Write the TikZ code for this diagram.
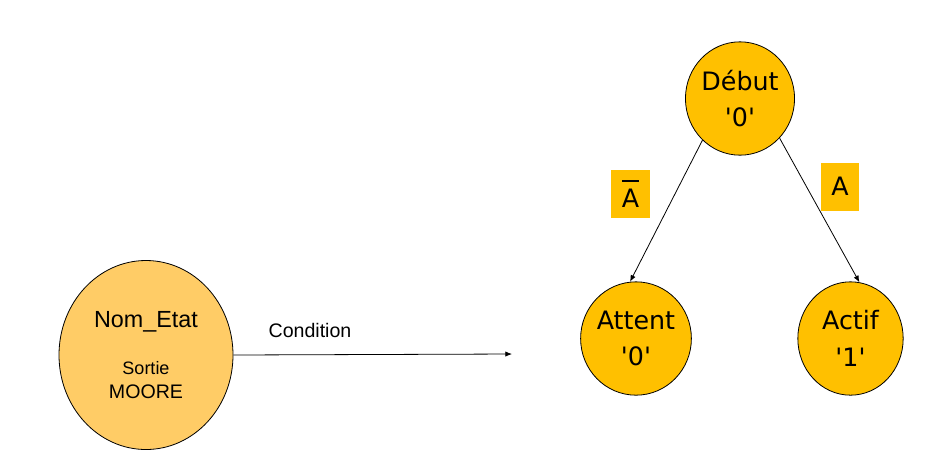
\documentclass[tikz,border=0pt]{standalone}
\usepackage{fontspec}
\setmainfont{Liberation Sans}
\newfontfamily\verd{DejaVu Sans}
\usetikzlibrary{arrows.meta,shapes.geometric}
\newcommand{\barre}[1]{\vbox{\hrule height 1.5pt\kern 5.5pt\hbox{#1}}}

\begin{document}
\begin{tikzpicture}[x=0.75pt,y=0.75pt,yscale=-1,xscale=1,
  etat/.style={ellipse,draw,line width=0.6pt,fill={rgb,255:red,255;green,192;blue,0},inner sep=0pt,
    minimum width=79pt,minimum height=85pt,align=center,font=\verd\fontsize{19}{27.5}\selectfont},
  etiq/.style={fill={rgb,255:red,255;green,192;blue,0},minimum width=29pt,minimum height=36pt,inner sep=0pt,
    font=\verd\fontsize{19}{23}\selectfont},
  fleche/.style={-{Latex[length=5pt,width=4pt]},line width=0.6pt}]
\path (0,0) rectangle (941,462); %set diagram to 941 x 462

%Shape: Ellipse [generique]
\node (nom) [ellipse,draw,line width=0.6pt,fill={rgb,255:red,255;green,204;blue,102},inner sep=0pt,
  minimum width=130.5pt,minimum height=141.75pt,align=center,font=\fontsize{14.7}{18}\selectfont] at (146,355)
  {{\fontsize{17.5}{18}\selectfont Nom\_Etat}\\[17pt]{\fontsize{13.5}{18}\selectfont Sortie}\\MOORE};
\coordinate (fin) at (512,354);
%Straight Lines
\draw [fleche] (nom.east) -- (fin);
% Text Node
\node (cond) [font=\fontsize{14.7}{18}\selectfont] at (310,330) {Condition};

%Shape: Ellipse [debut]
\node (debut) [etat] at (740,98.5) {Début\\'0'};
%Shape: Ellipse [attent]
\node (attent) [etat] at (636,338.5) {Attent\\'0'};
%Shape: Ellipse [actif]
\node (actif) [etat] at (850.5,338.5) {Actif\\'1'};

%Straight Lines
\draw [fleche] (debut.228) -- (attent.96);
\draw [fleche] (debut.315) -- (actif.81);

% Text Node
\node (nona) [etiq] at (630.5,194) {\barre{A}};
% Text Node
\node (ouia) [etiq] at (840,186.5) {A};

\end{tikzpicture}
\end{document}
